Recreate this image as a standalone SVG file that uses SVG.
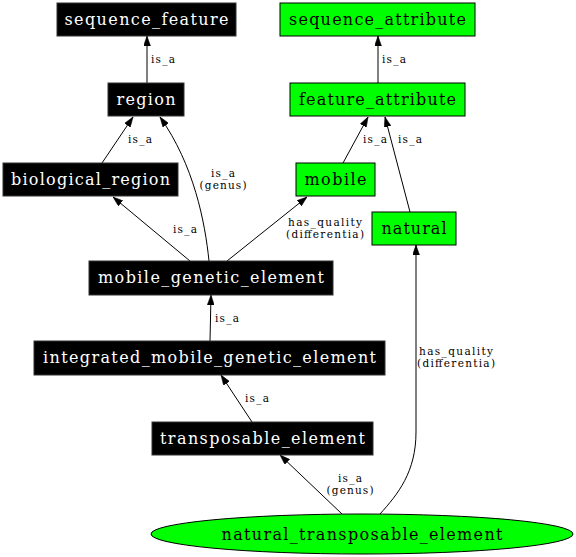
<svg xmlns="http://www.w3.org/2000/svg" width="576" height="557" viewBox="0 0 576 557">
<style>
.blk rect{fill:#000;stroke:#333;stroke-width:1}
.grn rect,.grn ellipse{fill:#00ff00;stroke:#000;stroke-width:1}
.blk text{fill:#fff;font-family:"DejaVu Serif",serif;font-size:16px;text-anchor:middle}
.grn text{fill:#000;font-family:"DejaVu Serif",serif;font-size:16px;text-anchor:middle}
#edges path{fill:none;stroke:#000;stroke-width:1;marker-end:url(#arr)}
#edges text{font-family:"DejaVu Serif",serif;font-size:10.5px;fill:#000}
#edges text.c{text-anchor:middle}
</style>
<defs>
<marker id="arr" markerUnits="userSpaceOnUse" viewBox="0 0 10 7" markerWidth="10" markerHeight="7" refX="10" refY="3.5" orient="auto">
<polygon points="0,0 10,3.5 0,7" fill="#000" stroke="#000" stroke-width="0.5"/>
</marker>
</defs>
<rect width="576" height="557" fill="#fff"/>
<g id="edges">
<path d="M147,83 L147,36"/>
<text x="151" y="63" textLength="24" lengthAdjust="spacing">is_a</text>
<path d="M378,83 L378,36"/>
<text x="382" y="63" textLength="24" lengthAdjust="spacing">is_a</text>
<path d="M102,163 L133,117"/>
<text x="128" y="143" textLength="24" lengthAdjust="spacing">is_a</text>
<path d="M209,261 C205,222 194,165 160,117"/>
<text class="c" x="223" y="176.5" textLength="24" lengthAdjust="spacing">is_a</text>
<text class="c" x="223" y="189" textLength="47" lengthAdjust="spacing">(genus)</text>
<path d="M190,261 L113,197"/>
<text x="173" y="233" textLength="24" lengthAdjust="spacing">is_a</text>
<path d="M227,261 L307,197"/>
<text class="c" x="325" y="225.5" textLength="74" lengthAdjust="spacing">has_quality</text>
<text class="c" x="325" y="238" textLength="78" lengthAdjust="spacing">(differentia)</text>
<path d="M343,163 L368,117"/>
<text x="363" y="143" textLength="24" lengthAdjust="spacing">is_a</text>
<path d="M410,212 L385,117"/>
<text x="398" y="143" textLength="24" lengthAdjust="spacing">is_a</text>
<path d="M210,341 L211,295"/>
<text x="215" y="322" textLength="24" lengthAdjust="spacing">is_a</text>
<path d="M252,422 L221,375"/>
<text x="245" y="402" textLength="24" lengthAdjust="spacing">is_a</text>
<path d="M342,514 L280,455"/>
<text class="c" x="350" y="481.5" textLength="24" lengthAdjust="spacing">is_a</text>
<text class="c" x="350" y="494" textLength="47" lengthAdjust="spacing">(genus)</text>
<path d="M380,514 C398,494 416,472 416,432 L416,245"/>
<text class="c" x="456" y="354.5" textLength="74" lengthAdjust="spacing">has_quality</text>
<text class="c" x="456" y="367" textLength="78" lengthAdjust="spacing">(differentia)</text>
</g>
<g id="sequence_feature" class="blk"><rect x="57" y="3" width="179" height="33"/><text x="146.5" y="25" textLength="164" lengthAdjust="spacing">sequence_feature</text></g>
<g id="sequence_attribute" class="grn"><rect x="280" y="3" width="195" height="33"/><text x="377.5" y="25" textLength="177" lengthAdjust="spacing">sequence_attribute</text></g>
<g id="region" class="blk"><rect x="108" y="83" width="76" height="33"/><text x="146" y="105" textLength="59" lengthAdjust="spacing">region</text></g>
<g id="feature_attribute" class="grn"><rect x="290" y="83" width="175" height="33"/><text x="377.5" y="105" textLength="157" lengthAdjust="spacing">feature_attribute</text></g>
<g id="biological_region" class="blk"><rect x="3" y="163" width="175" height="33"/><text x="90.5" y="185" textLength="159" lengthAdjust="spacing">biological_region</text></g>
<g id="mobile" class="grn"><rect x="296" y="163" width="79" height="33"/><text x="335.5" y="185" textLength="62" lengthAdjust="spacing">mobile</text></g>
<g id="natural" class="grn"><rect x="372" y="212" width="84" height="33"/><text x="414" y="234" textLength="65" lengthAdjust="spacing">natural</text></g>
<g id="mobile_genetic_element" class="blk"><rect x="89" y="261" width="244" height="34"/><text x="211" y="283" textLength="226" lengthAdjust="spacing">mobile_genetic_element</text></g>
<g id="integrated_mobile_genetic_element" class="blk"><rect x="34" y="341" width="351" height="34"/><text x="209.5" y="363" textLength="333" lengthAdjust="spacing">integrated_mobile_genetic_element</text></g>
<g id="transposable_element" class="blk"><rect x="152" y="422" width="221" height="33"/><text x="262.5" y="444" textLength="205" lengthAdjust="spacing">transposable_element</text></g>
<g id="natural_transposable_element" class="grn"><ellipse cx="362" cy="534" rx="211" ry="20"/><text x="362" y="539.5" textLength="281" lengthAdjust="spacing">natural_transposable_element</text></g>
</svg>
